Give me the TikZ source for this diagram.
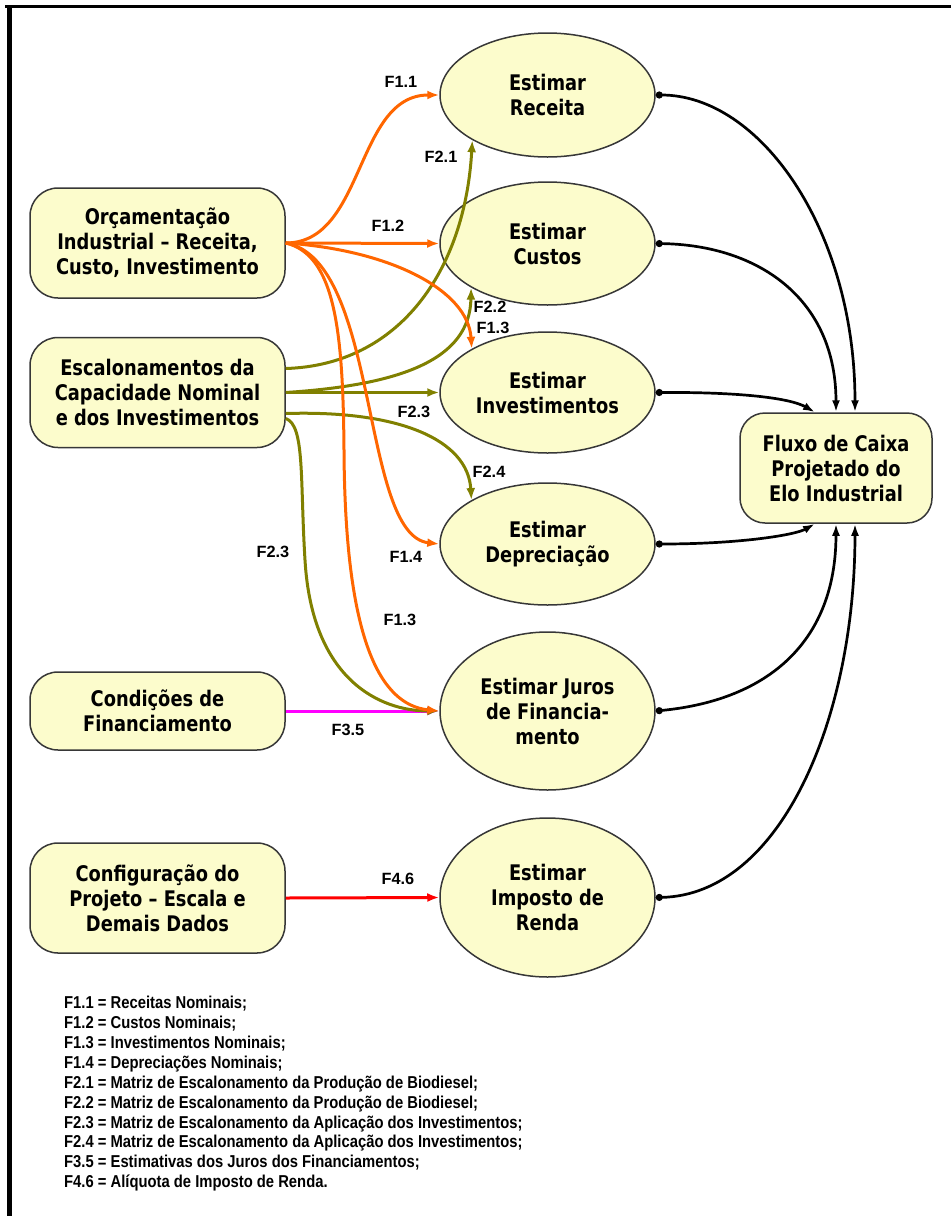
\documentclass[tikz,border=0pt]{standalone}
\usepackage{fontspec}
\setmainfont{Liberation Sans}
\newfontfamily\nodefont{DejaVu Sans}[FakeStretch=0.83]
\newfontfamily\legfont{Liberation Sans}[FakeStretch=0.86]
\usetikzlibrary{shapes.geometric,arrows.meta,calc}
\definecolor{nfill}{RGB}{252,252,204}
\definecolor{nborder}{RGB}{55,55,55}
\definecolor{orng}{RGB}{255,102,0}
\definecolor{olv}{RGB}{128,128,0}
\definecolor{mgt}{RGB}{255,0,255}
\definecolor{rd}{RGB}{255,0,0}
\begin{document}
\begin{tikzpicture}[x=1pt,y=-1pt,
  box/.style={draw=nborder, line width=1.5pt, fill=nfill, rounded corners=28pt,
    minimum width=255pt, inner sep=0pt, align=center,
    font=\nodefont\bfseries\fontsize{21.5}{25}\selectfont},
  ell/.style={ellipse, draw=nborder, line width=1.5pt, fill=nfill,
    minimum width=215pt, inner sep=0pt, align=center,
    font=\nodefont\bfseries\fontsize{21.5}{25}\selectfont},
  lab/.style={font=\bfseries\fontsize{16.3}{18}\selectfont, inner sep=0pt},
  cflow/.style={line width=3pt, -{Latex[length=12pt,width=9pt]}},
  sumflow/.style={line width=2.7pt, {Circle[length=7pt]}-{Latex[length=12pt,width=8pt]}}
]
\useasboundingbox (0,0) rectangle (951,1216);
% frame
\draw[line width=3.5pt] (5,6.7) -- (951,6.7);
\draw[line width=4.5pt] (9.5,5) -- (9.5,1216);

% source boxes
\node[box, minimum height=110pt] (orc) at (157.5,243) {Orçamentação\\Industrial – Receita,\\Custo, Investimento};
\node[box, minimum height=110pt] (esc) at (157.5,392.5) {Escalonamentos da\\Capacidade Nominal\\e dos Investimentos};
\node[box, minimum height=78pt] (cond) at (157.5,711) {Condições de\\Financiamento};
\node[box, minimum height=110pt] (conf) at (157.5,898) {Configuração do\\Projeto – Escala e\\Demais Dados};

% estimation ellipses
\node[ell, minimum height=124pt] (rec) at (547.5,95) {Estimar\\Receita};
\node[ell, minimum height=123pt] (cus) at (547.5,243.5) {Estimar\\Custos};
\node[ell, minimum height=121pt] (inv) at (547.5,392.5) {Estimar\\Investimentos};
\node[ell, minimum height=122pt] (dep) at (547.5,544) {Estimar\\Depreciação};
\node[ell, minimum height=158pt] (jur) at (547.5,711) {Estimar Juros\\de Financia-\\mento};
\node[ell, minimum height=159pt] (imp) at (547.5,897.5) {Estimar\\Imposto de\\Renda};

% result box
\node[box, minimum width=192pt, minimum height=110pt, rounded corners=25pt] (fc) at (836,468) {Fluxo de Caixa\\Projetado do\\Elo Industrial};

% magenta and red
\draw[cflow, mgt] (cond.east) -- (jur.west);
\draw[cflow, rd] (conf.east) -- (imp.west);

% olive flows
\draw[cflow, olv] ($(esc.east)+(0,-24)$) .. controls (400,365) and (465,270) .. (rec.-149);
\draw[cflow, olv] (esc.east) .. controls (400,385) and (470,360) .. (cus.-150);
\draw[cflow, olv] (esc.east) -- (inv.west);
\draw[cflow, olv] ($(esc.east)+(0,21)$) .. controls (400,410) and (468,440) .. (dep.150);
\draw[cflow, olv] ($(esc.east)+(0,26)$) .. controls (305,425) and (300,480) .. (305,560) .. controls (312,680) and (380,711) .. (jur.west);

% orange flows
\draw[cflow, orng] (orc.east) .. controls (365,243) and (355,95) .. (rec.west);
\draw[cflow, orng] (orc.east) -- (cus.west);
\draw[cflow, orng] (orc.east) .. controls (390,250) and (468,290) .. (inv.150);
\draw[cflow, orng] (orc.east) .. controls (380,260) and (360,535) .. (dep.west);
\draw[cflow, orng] (orc.east) .. controls (335,255) and (343,330) .. (344,450) .. controls (345,640) and (380,705) .. (jur.west);

% black flows to result
\draw[sumflow] (rec.east) .. controls (760,95) and (855,230) .. ($(fc.north)+(19,0)$);
\draw[sumflow] (cus.east) .. controls (760,245) and (836,300) .. (fc.north);
\draw[sumflow] (inv.east) .. controls (740,392) and (790,398) .. ($(fc.north)+(-21,0)$);
\draw[sumflow] (dep.east) .. controls (740,544) and (795,535) .. ($(fc.south)+(-21,0)$);
\draw[sumflow] (jur.east) .. controls (770,700) and (836,640) .. (fc.south);
\draw[sumflow] (imp.east) .. controls (780,895) and (855,720) .. ($(fc.south)+(19,0)$);

% labels
\node[lab] (l11) at (401,82) {F1.1};
\node[lab] (l21) at (441,157) {F2.1};
\node[lab] (l12) at (388,226) {F1.2};
\node[lab] (l22) at (490,307) {F2.2};
\node[lab] (l13a) at (493,328) {F1.3};
\node[lab] (l23a) at (414,412) {F2.3};
\node[lab] (l24) at (489,472) {F2.4};
\node[lab] (l23b) at (273,552) {F2.3};
\node[lab] (l14) at (406,557) {F1.4};
\node[lab] (l13b) at (400,620) {F1.3};
\node[lab] (l35) at (348,730) {F3.5};
\node[lab] (l46) at (398,879) {F4.6};

% legend
\node[anchor=north west, inner sep=0pt, align=left,
  font=\legfont\bfseries\fontsize{17.2}{19.9}\selectfont] (leg) at (64,996) {%
F1.1 = Receitas Nominais;\\
F1.2 = Custos Nominais;\\
F1.3 = Investimentos Nominais;\\
F1.4 = Depreciações Nominais;\\
F2.1 = Matriz de Escalonamento da Produção de Biodiesel;\\
F2.2 = Matriz de Escalonamento da Produção de Biodiesel;\\
F2.3 = Matriz de Escalonamento da Aplicação dos Investimentos;\\
F2.4 = Matriz de Escalonamento da Aplicação dos Investimentos;\\
F3.5 = Estimativas dos Juros dos Financiamentos;\\
F4.6 = Alíquota de Imposto de Renda.};
\end{tikzpicture}
\end{document}
